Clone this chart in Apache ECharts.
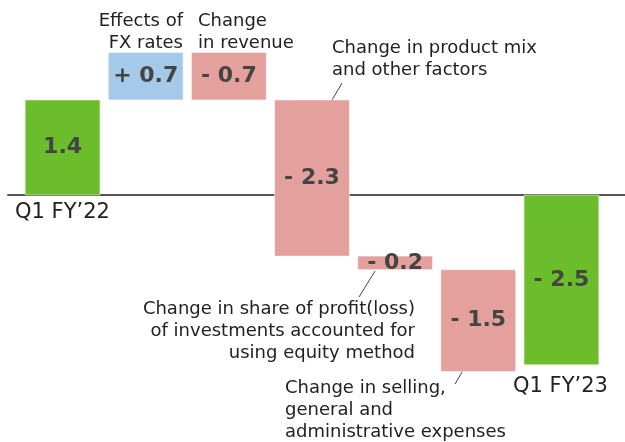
<!DOCTYPE html>
<html>
<head>
<meta charset="utf-8">
<script src="https://cdn.jsdelivr.net/npm/echarts@6/dist/echarts.min.js"></script>
<style>
  html, body { margin: 0; padding: 0; background: #fff; }
  #chart { width: 625px; height: 442px; }
</style>
</head>
<body>
<div id="chart"></div>
<script>
// Waterfall steps from Q1 FY'22 to Q1 FY'23
const categories = ["Q1 FY’22", "Effects of FX rates", "Change in revenue",
  "Change in product mix and other factors",
  "Change in share of profit(loss) of investments accounted for using equity method",
  "Change in selling, general and administrative expenses", "Q1 FY’23"];
const stepValues = [1.4, 0.7, -0.7, -2.3, -0.2, -1.5, -2.5];
const stepKinds = ['total', 'change', 'change', 'change', 'change', 'change', 'total'];

const palette = { total: '#6cbd2b', up: '#a5c9e9', down: '#e4a09c' };

// Floating bar extents: totals rise from zero, changes float on the running sum
const barData = [];
let running = 0;
stepValues.forEach((v, i) => {
  let start, end;
  if (stepKinds[i] === 'total') { start = 0; end = v; running = v; }
  else { start = running; end = running + v; running = end; }
  barData.push([i, start, end, v]);
});

function labelFor(i) {
  const v = stepValues[i];
  if (stepKinds[i] === 'total' && v >= 0) return v.toFixed(1);
  return (v >= 0 ? '+ ' : '- ') + Math.abs(v).toFixed(1);
}
function colorFor(i) {
  if (stepKinds[i] === 'total') return palette.total;
  return stepValues[i] >= 0 ? palette.up : palette.down;
}

const chart = echarts.init(document.getElementById('chart'), null, { renderer: 'canvas' });
const FONT = '"DejaVu Sans", Verdana, sans-serif';
const noteStyle = (text, align) => ({
  text, font: '18px ' + FONT, fill: '#222', lineHeight: 22, textAlign: align, textVerticalAlign: 'top'
});

chart.setOption({
  animation: false,
  grid: [
    { left: 21, right: 22, top: 25.25, bottom: 9.35 },
    { left: 8, right: 0, top: 25.25, bottom: 9.35 }
  ],
  xAxis: [
    { type: 'category', gridIndex: 0, data: categories, show: false },
    { type: 'value', gridIndex: 1, min: 0, max: 1,
      axisLine: { show: true, onZero: true, lineStyle: { color: '#555', width: 2 } },
      axisTick: { show: false }, axisLabel: { show: false }, splitLine: { show: false } }
  ],
  yAxis: [
    { type: 'value', gridIndex: 0, min: -3.5, max: 2.5, show: false, splitLine: { show: false } },
    { type: 'value', gridIndex: 1, min: -3.5, max: 2.5, show: false, splitLine: { show: false } }
  ],
  series: [{
    type: 'custom',
    xAxisIndex: 0, yAxisIndex: 0,
    data: barData,
    encode: { x: 0, y: [1, 2] },
    renderItem(params, api) {
      const i = api.value(0);
      const a = api.coord([i, api.value(1)]);
      const b = api.coord([i, api.value(2)]);
      const w = api.size([1, 0])[0] * 0.9;
      const top = Math.min(a[1], b[1]);
      const h = Math.abs(a[1] - b[1]);
      return {
        type: 'rect',
        shape: { x: a[0] - w / 2, y: top, width: w, height: h },
        style: { fill: colorFor(i), stroke: 'rgba(255,255,255,0.5)', lineWidth: 1 },
        textContent: {
          style: {
            text: labelFor(i), font: 'bold 22px ' + FONT, fill: '#444',
            textBorderColor: 'rgba(255,255,255,0.45)', textBorderWidth: 1.5
          }
        },
        textConfig: { position: 'inside' }
      };
    }
  }],
  graphic: [
    { type: 'text', left: 15, top: 202, style: { text: categories[0], font: '21px ' + FONT, fill: '#222' } },
    { type: 'text', left: 513, top: 376, style: { text: categories[6], font: '21px ' + FONT, fill: '#222' } },
    { type: 'text', x: 183, y: 10, style: noteStyle('Effects of\nFX rates', 'right') },
    { type: 'text', x: 198, y: 10, style: noteStyle('Change\nin revenue', 'left') },
    { type: 'text', x: 332, y: 37, style: noteStyle('Change in product mix\nand other factors', 'left') },
    { type: 'text', x: 415, y: 298, style: noteStyle('Change in share of profit(loss)\nof investments accounted for\nusing equity method', 'right') },
    { type: 'text', x: 285, y: 377, style: noteStyle('Change in selling,\ngeneral and\nadministrative expenses', 'left') },
    { type: 'line', shape: { x1: 342, y1: 83, x2: 332, y2: 100 }, style: { stroke: '#444', lineWidth: 1 } },
    { type: 'line', shape: { x1: 375, y1: 271, x2: 359, y2: 297 }, style: { stroke: '#444', lineWidth: 1 } },
    { type: 'line', shape: { x1: 471, y1: 357, x2: 455, y2: 384 }, style: { stroke: '#444', lineWidth: 1 } }
  ]
});
</script>
</body>
</html>
